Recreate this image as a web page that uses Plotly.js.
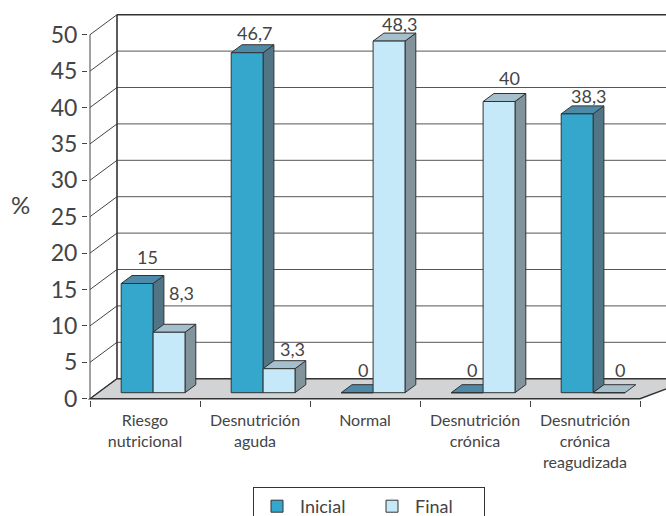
<!DOCTYPE html>
<html><head><meta charset="utf-8">
<script src="https://cdn.plot.ly/plotly-3.0.1.min.js"></script>
<style>html,body{margin:0;padding:0;background:#fff;overflow:hidden}</style>
</head><body><div id="chart" style="width:666px;height:516px"></div>
<script>
const categories = ['Riesgo<br>nutricional','Desnutrición<br>aguda','Normal','Desnutrición<br>crónica','Desnutrición<br>crónica<br>reagudizada'];
const inicial = [15, 46.7, 0, 0, 38.3];
const final_ = [8.3, 3.3, 48.3, 40, 0];
const inicialLabels = ['15','46,7','0','0','38,3'];
const finalLabels = ['8,3','3,3','48,3','40','0'];
const yTicks = [0,5,10,15,20,25,30,35,40,45,50];

// label nudges in pixels [x, y], one per category
const inicialNudge = [[0,6],[-3,-1],[-5,2],[-6,2],[1,-3]];
const finalNudge = [[2,18],[3,-1],[0,-4],[0,3],[0,2]];

// pseudo-3D projection in axis units
const DX = 27/110, DY = 20/7.28;
const Z0 = 0.3, Z1 = 0.7, GAP = 0.21, W = 0.29;
const EDGE = '#333', TXT = '#444';
const styles = [
  {front:'#36a7cc', side:'#527585', top:'#4e8aa7'},
  {front:'#c5e9f9', side:'#82939b', top:'#a5bfcc'}
];
const P = (x,y,z)=>[x+z*DX, y+z*DY];
const pathOf = pts => 'M'+pts.map(p=>p[0]+','+p[1]).join('L')+'Z';
const shapes = [];
const poly = (pts,fill,w=1)=>shapes.push({type:'path',xref:'x',yref:'y',layer:'below',path:pathOf(pts),fillcolor:fill,line:{color:EDGE,width:w}});
const seg = (a,b,c,w)=>shapes.push({type:'line',xref:'x',yref:'y',layer:'below',x0:a[0],y0:a[1],x1:b[0],y1:b[1],line:{color:c,width:w}});

const XMAX = 576/110, N = categories.length;
// back wall grid + side wall diagonals
yTicks.forEach(v=>{
  if(v>0){ seg(P(0,v,1),[XMAX,v+DY], v===50?EDGE:'#555', v===50?1.6:1); }
  seg(P(0,v,0),P(0,v,1),'#444',1);
});
seg(P(0,0,1),P(0,50,1),EDGE,1.6);
seg([0,0],[0,50],'#444',1);
// floor
poly([P(0,0,0),P(0,0,1),P(XMAX+0.01,0,1),P(N,0,0)],'#d1d3d4',1.4);

const series = [inicial, final_];
const barX = (c,s)=>c+GAP+Z0*DX+(s+0.5)*W;
// side and top faces
categories.forEach((_,c)=>{
  series.forEach((vals,s)=>{
    const xl = c+GAP+s*W, xr = xl+W, v = vals[c], st = styles[s];
    if(v>0) poly([P(xr,0,Z0),P(xr,0,Z1),P(xr,v,Z1),P(xr,v,Z0)],st.side);
    poly([P(xl,v,Z0),P(xl,v,Z1),P(xr,v,Z1),P(xr,v,Z0)],st.top);
  });
});

const names = ['Inicial','Final'];
const traces = series.map((vals,s)=>({
  type:'bar', name:names[s],
  x:vals.map((_,c)=>barX(c,s)), y:vals, base:Z0*DY, width:W,
  marker:{color:styles[s].front, line:{color:EDGE,width:1}},
  hoverinfo:'y+name'
}));

const annotations = [];
[[inicial,inicialLabels,inicialNudge],[final_,finalLabels,finalNudge]].forEach(([vals,labs,nud],s)=>{
  vals.forEach((v,c)=>{
    const p = P(c+GAP+(s+0.5)*W, v, Z1);
    annotations.push({x:p[0],y:p[1],xref:'x',yref:'y',text:labs[c],showarrow:false,xanchor:'center',yanchor:'bottom',
      xshift:nud[c][0],yshift:nud[c][1],font:{family:'Lato',size:18,color:TXT}});
  });
});
annotations.push({xref:'paper',yref:'paper',x:(20-88)/578,y:(400-204)/387,text:'%',showarrow:false,xanchor:'center',yanchor:'middle',
  font:{family:'Lato',size:24,color:TXT}});

const layout = {
  width:666,height:516,paper_bgcolor:'#fff',plot_bgcolor:'rgba(0,0,0,0)',
  margin:{l:88,r:0,t:13,b:116,autoexpand:false},
  barmode:'overlay',showlegend:true,
  xaxis:{range:[-2/110,XMAX],tickmode:'array',tickvals:categories.map((_,i)=>i+0.5),ticktext:categories,
    ticks:'',showgrid:false,zeroline:false,showline:false,tickangle:0,ticklabelstandoff:9,
    tickfont:{family:'Lato',size:16,color:TXT},
    minor:{tickmode:'array',tickvals:[0,1,2,3,4,5],ticks:'outside',ticklen:6,tickcolor:'#444',tickwidth:1,showgrid:false}},
  yaxis:{range:[-1.3/7.28,(398.7-13)/7.28],tickmode:'array',tickvals:yTicks,ticks:'outside',ticklen:5,tickcolor:'#444',tickwidth:1,
    showgrid:false,zeroline:false,showline:false,tickfont:{family:'Lato',size:23,color:TXT}},
  legend:{orientation:'h',x:(253-88)/578,y:-(487-400)/387,xanchor:'left',yanchor:'top',
    bordercolor:'#333',borderwidth:1,bgcolor:'#fff',font:{family:'Lato',size:18,color:TXT},
    itemwidth:36,entrywidth:64,entrywidthmode:'pixels',traceorder:'normal'},
  shapes,annotations
};
Plotly.newPlot('chart',traces,layout,{displayModeBar:false,responsive:false});
</script></body></html>
